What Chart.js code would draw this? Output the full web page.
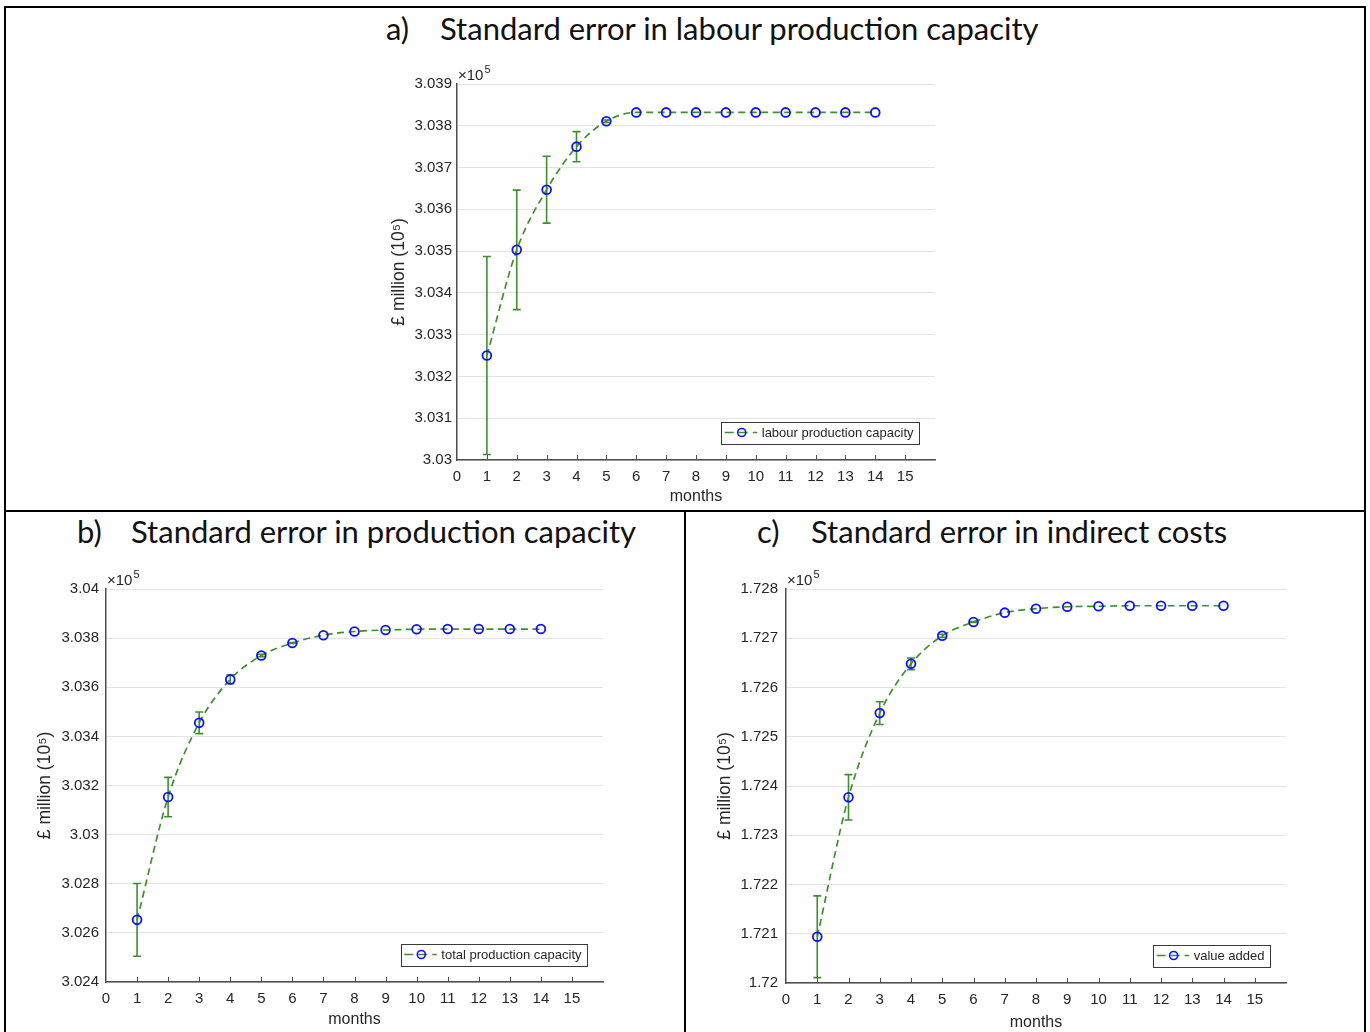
<!DOCTYPE html>
<html>
<head>
<meta charset="utf-8">
<script src="https://cdn.jsdelivr.net/npm/chart.js@4.4.1/dist/chart.umd.min.js"></script>
<style>
  html, body { margin:0; padding:0; background:#fff; }
  #page { position:relative; width:1370px; height:1032px; overflow:hidden; background:#fff; }
  .ln { position:absolute; background:#000; }
  .ttl { position:absolute; font-family:Lato, 'Open Sans', sans-serif; font-size:31px; line-height:31px; color:#111; white-space:pre; }
  canvas { position:absolute; }
</style>
</head>
<body>
<div id="page">
  <div class="ln" style="left:4px; top:6px; width:1362px; height:2px;"></div>
  <div class="ln" style="left:4px; top:6px; width:2px; height:1030px;"></div>
  <div class="ln" style="left:1364px; top:6px; width:2px; height:1030px;"></div>
  <div class="ln" style="left:4px; top:510px; width:1362px; height:2px;"></div>
  <div class="ln" style="left:684px; top:510px; width:2px; height:530px;"></div>

  <div class="ttl" style="left:386px; top:13px;">a)</div>
  <div class="ttl" style="left:440px; top:13px;">Standard error in labour production capacity</div>
  <div class="ttl" style="left:77px; top:516px;">b)</div>
  <div class="ttl" style="left:131px; top:516px;">Standard error in production capacity</div>
  <div class="ttl" style="left:757px; top:516px;">c)</div>
  <div class="ttl" style="left:811px; top:516px;">Standard error in indirect costs</div>

  <canvas id="chartA" width="566" height="452" style="left:389px; top:54px;"></canvas>
  <canvas id="chartB" width="588" height="470" style="left:35px; top:559px;"></canvas>
  <canvas id="chartC" width="591" height="473" style="left:715px; top:559px;"></canvas>
</div>
<script>
// ---------------- data (values in units of 10^5 £ million) ----------------
const months = [1, 2, 3, 4, 5, 6, 7, 8, 9, 10, 11, 12, 13, 14];
const xTickValues = [0, 1, 2, 3, 4, 5, 6, 7, 8, 9, 10, 11, 12, 13, 14, 15];

const labourCapacity = [3.0325, 3.03503, 3.03647, 3.0375, 3.03811, 3.03832, 3.03832, 3.03832, 3.03832, 3.03832, 3.03832, 3.03832, 3.03832, 3.03832];
const labourError    = [0.00237, 0.00143, 0.0008, 0.00036, 0.00003, 0, 0, 0, 0, 0, 0, 0, 0, 0];
const yTicksA = [3.030, 3.031, 3.032, 3.033, 3.034, 3.035, 3.036, 3.037, 3.038, 3.039];

const totalCapacity = [3.02653, 3.03153, 3.03455, 3.03632, 3.03729, 3.0378, 3.03812, 3.03827, 3.03833, 3.03836, 3.03837, 3.03837, 3.03837, 3.03837];
const totalError    = [0.00148, 0.0008, 0.00044, 0.00018, 0.00005, 0.00002, 0, 0, 0, 0, 0, 0, 0, 0];
const yTicksB = [3.024, 3.026, 3.028, 3.030, 3.032, 3.034, 3.036, 3.038, 3.040];

const valueAdded = [1.72094, 1.72377, 1.72548, 1.72648, 1.72705, 1.72733, 1.72752, 1.7276, 1.72764, 1.72765, 1.72766, 1.72766, 1.72766, 1.72766];
const valueError = [0.00083, 0.00046, 0.00023, 0.00012, 0.00003, 0.00001, 0, 0, 0, 0, 0, 0, 0, 0];
const yTicksC = [1.720, 1.721, 1.722, 1.723, 1.724, 1.725, 1.726, 1.727, 1.728];

const titles = { x: 'months', y: '£ million (10⁵)' };
const exponentText = '5';
// --------------------------------------------------------------------------

const FONT = "'Liberation Sans', Arial, Helvetica, sans-serif";
const GREEN = '#3f8f2f';
const BLUE = '#1010ff';
const AXIS = '#4d4d4d';
const TEXT = '#262626';

Chart.defaults.font.family = FONT;

function fmt(v) { return String(Number(v.toFixed(4))); }

const decor = {
  id: 'decor',
  beforeDatasetsDraw(chart, args, opts) {
    const { ctx, scales: { x, y } } = chart;
    ctx.save();
    ctx.strokeStyle = GREEN;
    ctx.lineWidth = 1.6;
    ctx.setLineDash([]);
    chart.data.datasets[0].data.forEach((p, i) => {
      const e = opts.errors[i];
      if (!e) return;
      const px = x.getPixelForValue(p.x);
      const top = y.getPixelForValue(p.y + e);
      const bot = y.getPixelForValue(p.y - e);
      ctx.beginPath();
      ctx.moveTo(px, top); ctx.lineTo(px, bot);
      ctx.moveTo(px - 4, top); ctx.lineTo(px + 4, top);
      ctx.moveTo(px - 4, bot); ctx.lineTo(px + 4, bot);
      ctx.stroke();
    });
    ctx.restore();
  },
  afterDraw(chart, args, opts) {
    const { ctx, chartArea: a, scales: { x } } = chart;
    ctx.save();
    // inward x tick marks
    ctx.strokeStyle = AXIS;
    ctx.lineWidth = 1;
    x.ticks.forEach(t => {
      if (t.value === 0) return;
      const px = Math.round(x.getPixelForValue(t.value)) + 0.5;
      ctx.beginPath();
      ctx.moveTo(px, a.bottom);
      ctx.lineTo(px, a.bottom - 5);
      ctx.stroke();
    });
    // exponent label
    ctx.fillStyle = TEXT;
    ctx.textBaseline = 'alphabetic';
    ctx.textAlign = 'left';
    ctx.font = '15px ' + FONT;
    const base = '×10';
    ctx.fillText(base, a.left + 1, a.top - 4);
    const w = ctx.measureText(base).width;
    ctx.font = '11px ' + FONT;
    ctx.fillText(exponentText, a.left + 1 + w + 1, a.top - 11);
    // legend box
    const label = chart.data.datasets[0].label;
    ctx.font = '13px ' + FONT;
    const tw = ctx.measureText(label).width;
    const bw = 40.5 + tw + 5.5, bh = 22;
    const bx = a.right - 16 - bw, by = a.bottom - 16.5 - bh;
    ctx.fillStyle = '#fff';
    ctx.fillRect(bx, by, bw, bh);
    ctx.strokeStyle = '#3a3a3a';
    ctx.lineWidth = 1;
    ctx.strokeRect(Math.round(bx) + 0.5, Math.round(by) + 0.5, Math.round(bw), bh);
    const cy = by + bh / 2;
    ctx.strokeStyle = GREEN;
    ctx.lineWidth = 1.6;
    ctx.setLineDash([9, 5]);
    ctx.beginPath();
    ctx.moveTo(bx + 3.5, cy); ctx.lineTo(bx + 36, cy);
    ctx.stroke();
    ctx.setLineDash([]);
    ctx.strokeStyle = BLUE;
    ctx.lineWidth = 1.6;
    ctx.beginPath();
    ctx.arc(bx + 20.5, cy, 4, 0, Math.PI * 2);
    ctx.stroke();
    ctx.fillStyle = TEXT;
    ctx.textBaseline = 'middle';
    ctx.fillText(label, bx + 40.5, cy + 0.5);
    ctx.restore();
  }
};

function makeChart(id, label, values, errors, yTicks, geo) {
  return new Chart(document.getElementById(id), {
    type: 'line',
    data: {
      datasets: [{
        label: label,
        data: months.map((m, i) => ({ x: m, y: values[i] })),
        borderColor: GREEN,
        borderWidth: 1.7,
        borderDash: [7, 4.5],
        cubicInterpolationMode: 'monotone',
        fill: false,
        pointStyle: 'circle',
        pointRadius: 4.4,
        pointBorderWidth: 1.8,
        pointBorderColor: BLUE,
        pointBackgroundColor: 'rgba(0,0,0,0)'
      }]
    },
    options: {
      responsive: false,
      animation: false,
      devicePixelRatio: 1,
      layout: { padding: { top: 30, right: 20, left: 0, bottom: 0 } },
      plugins: {
        legend: { display: false },
        tooltip: { enabled: false },
        decor: { errors: errors }
      },
      scales: {
        x: {
          type: 'linear', min: 0, max: 16,
          afterBuildTicks: s => { s.ticks = xTickValues.map(v => ({ value: v })); },
          afterFit: s => { s.height = geo.hx; },
          grid: { display: false, drawTicks: false },
          border: { display: true, color: AXIS, width: 1.5 },
          ticks: { autoSkip: false, maxRotation: 0, padding: 8, color: TEXT, font: { size: 15 }, callback: v => String(v) },
          title: { display: true, text: titles.x, color: TEXT, font: { size: 16 }, padding: 0 }
        },
        y: {
          type: 'linear', min: yTicks[0], max: yTicks[yTicks.length - 1],
          afterBuildTicks: s => { s.ticks = yTicks.map(v => ({ value: v })); },
          afterFit: s => { s.width = geo.wy; },
          grid: { color: '#e3e3e3', lineWidth: 1, drawTicks: false },
          border: { display: true, color: AXIS, width: 1.5 },
          ticks: { padding: geo.tp, color: TEXT, font: { size: 15 }, callback: v => fmt(v) },
          title: { display: true, text: titles.y, color: TEXT, font: { size: 17.5 }, padding: 0 }
        }
      }
    },
    plugins: [decor]
  });
}

makeChart('chartA', 'labour production capacity', labourCapacity, labourError, yTicksA, { wy: 68, hx: 46, tp: 5 });
makeChart('chartB', 'total production capacity', totalCapacity, totalError, yTicksB, { wy: 71, hx: 47, tp: 7 });
makeChart('chartC', 'value added', valueAdded, valueError, yTicksC, { wy: 71, hx: 49, tp: 8 });
</script>
</body>
</html>
